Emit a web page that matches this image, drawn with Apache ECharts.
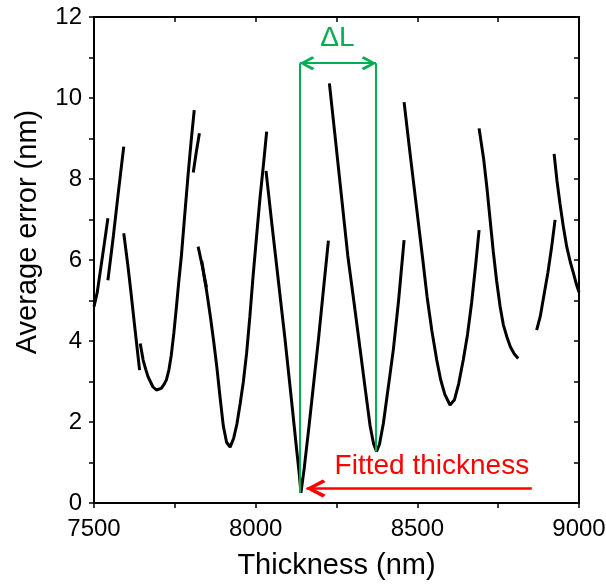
<!DOCTYPE html>
<html><head><meta charset="utf-8">
<script src="https://cdn.jsdelivr.net/npm/echarts@6/dist/echarts.min.js"></script>
<style>html,body{margin:0;padding:0;background:#fff;overflow:hidden}#c{width:606px;height:586px}</style>
</head><body><div id="c"></div>
<script>
// ---- data (thickness nm, average error nm) ----
const xRange = [7500, 9000];
const yRange = [0, 12];
const segA = [[7500,4.85],[7510,5.2],[7520,5.75],[7530,6.3],[7543,7.03]];
const segB = [[7543,5.5],[7560,6.6],[7575,7.65],[7592,8.8]];
const segC = [[7592,6.66],[7605,5.85],[7615,5.15],[7626,4.35],[7641,3.28]];
const segD = [[7643,3.94],[7652,3.53],[7660,3.3],[7667,3.12],[7682,2.87],[7693,2.79],[7708,2.83],[7716,2.92],[7724,3.04],[7732,3.3],[7739,3.65],[7747,4.2],[7755,4.85],[7762,5.45],[7770,6.08],[7780,7.05],[7791,8.1],[7800,8.9],[7810,9.7]];
const segE = [[7807,8.16],[7816,8.65],[7826,9.13]];
const segE2 = [[7833,5.98],[7840,5.65],[7848,5.32]];
const segF = [[7822,6.33],[7835,5.85],[7848,5.25],[7860,4.6],[7870,4.0],[7880,3.35],[7890,2.6],[7900,1.9],[7910,1.5],[7921,1.38],[7932,1.6],[7942,1.95],[7952,2.45],[7962,3.0],[7972,3.7],[7982,4.6],[7992,5.6],[8003,6.6],[8013,7.5],[8024,8.35],[8034,9.17]];
const segG = [[8032,8.2],[8050,6.9],[8070,5.5],[8090,4.1],[8110,2.6],[8125,1.45],[8135,0.7],[8140,0.25],[8150,0.85],[8165,1.9],[8180,3.0],[8195,4.1],[8210,5.3],[8225,6.48]];
const segH = [[8228,10.36],[8245,9.1],[8265,7.6],[8285,6.1],[8305,4.9],[8323,3.8],[8340,2.75],[8354,1.9],[8365,1.45],[8374,1.27],[8383,1.45],[8395,1.97],[8410,2.85],[8426,3.8],[8442,5.0],[8459,6.49]];
const segI = [[8459,9.9],[8475,8.8],[8490,7.8],[8505,6.8],[8517,6.0],[8530,5.1],[8545,4.25],[8560,3.53],[8572,3.05],[8585,2.68],[8601,2.42],[8615,2.55],[8628,2.95],[8642,3.53],[8655,4.15],[8668,4.95],[8680,5.85],[8691,6.74]];
const segJ = [[8691,9.25],[8705,8.5],[8715,7.8],[8725,7.0],[8735,6.2],[8745,5.5],[8756,4.85],[8766,4.4],[8777,4.1],[8788,3.85],[8800,3.68],[8812,3.57]];
const segK = [[8869,4.27],[8880,4.6],[8892,5.15],[8904,5.7],[8915,6.3],[8926,6.99]];
const segL = [[8923,8.62],[8932,7.95],[8941,7.4],[8952,6.8],[8962,6.33],[8973,5.95],[8983,5.67],[8992,5.4],[9000,5.2]];
const segments = [segA, segB, segC, segD, segE, segE2, segF, segG, segH, segI, segJ, segK, segL];

// ---- annotation anchors (data coords) ----
const fitMin = [8137, 0.25];
const nextMin = [8372, 1.27];
const deltaTop = 10.86;
const arrowY = 0.36;
const arrowEnd = 8854;
const arrowTip = 8158;

const FONT = "'Liberation Sans', Arial, sans-serif";
const GREEN = '#00b050';
const RED = '#ff0000';
const chevron = 'path://M10,0 L20,17 L17,20 L10,7 L3,20 L0,17 Z';

const chart = echarts.init(document.getElementById('c'), null, {renderer: 'canvas'});

const axisBase = {
  axisLine: {show: true, onZero: false, lineStyle: {color: '#000', width: 2}},
  splitLine: {show: false},
};

const series = segments.map((d, i) => ({
  type: 'line', data: d, showSymbol: false, symbol: 'none',
  lineStyle: {color: '#000', width: 3}, clip: true, silent: true,
  z: 3
}));

series.push({
  type: 'line', data: [], symbol: 'none', silent: true,
  markLine: {
    silent: true, animation: false,
    label: {show: false},
    data: [
      [{coord: [fitMin[0], fitMin[1]], symbol: 'none'}, {coord: [fitMin[0], deltaTop], symbol: 'none', lineStyle: {color: GREEN, width: 2, type: 'solid'}}],
      [{coord: [nextMin[0], nextMin[1]], symbol: 'none'}, {coord: [nextMin[0], deltaTop], symbol: 'none', lineStyle: {color: GREEN, width: 2, type: 'solid'}}],
      [{coord: [fitMin[0], deltaTop], symbol: chevron, symbolSize: [14, 15], symbolOffset: [0, 7]}, {coord: [nextMin[0], deltaTop], symbol: chevron, symbolSize: [14, 15], symbolOffset: [0, 7], lineStyle: {color: GREEN, width: 2, type: 'solid'}}],
      [{coord: [arrowTip, arrowY], symbol: chevron, symbolSize: [18, 20], symbolOffset: [0, 9]}, {coord: [arrowEnd, arrowY], symbol: 'none', lineStyle: {color: RED, width: 2.5, type: 'solid'}}]
    ]
  },
  markPoint: {
    silent: true, animation: false,
    data: [
      {coord: [8253, 11.48], symbol: 'circle', symbolSize: 0, itemStyle: {color: 'transparent'},
       label: {show: true, position: 'inside', formatter: 'ΔL', color: GREEN, fontSize: 28, fontFamily: FONT}},
      {coord: [8545, 0.9], symbol: 'circle', symbolSize: 0, itemStyle: {color: 'transparent'},
       label: {show: true, position: 'inside', formatter: 'Fitted thickness', color: RED, fontSize: 28, fontFamily: FONT}}
    ]
  }
});

chart.setOption({
  animation: false,
  backgroundColor: '#fff',
  grid: {left: 94, right: 27, top: 17, bottom: 83, containLabel: false, outerBoundsMode: 'none'},
  xAxis: [
    Object.assign({}, axisBase, {
      type: 'value', min: xRange[0], max: xRange[1], interval: 500, position: 'bottom',
      name: 'Thickness (nm)', nameLocation: 'middle', nameGap: 48,
      nameTextStyle: {fontSize: 29, color: '#000', fontFamily: FONT},
      axisTick: {show: true, inside: false, length: 5, lineStyle: {color: '#000', width: 1.5}},
      minorTick: {show: true, splitNumber: 2, length: 5, lineStyle: {color: '#000', width: 1.5}},
      axisLabel: {fontSize: 24, color: '#000', fontFamily: FONT, margin: 14, formatter: v => String(v)}
    }),
    Object.assign({}, axisBase, {
      type: 'value', min: xRange[0], max: xRange[1], interval: 500, position: 'top',
      axisTick: {show: true, inside: true, length: 5, lineStyle: {color: '#000', width: 1.5}},
      minorTick: {show: true, splitNumber: 2, length: 5, lineStyle: {color: '#000', width: 1.5}},
      axisLabel: {show: false}
    })
  ],
  yAxis: [
    Object.assign({}, axisBase, {
      type: 'value', min: yRange[0], max: yRange[1], interval: 2, position: 'left',
      name: 'Average error (nm)', nameLocation: 'middle', nameGap: 52, nameRotate: 90,
      nameTextStyle: {fontSize: 29, color: '#000', fontFamily: FONT, padding: [0, 0, 0, 56]},
      axisTick: {show: true, inside: false, length: 5, lineStyle: {color: '#000', width: 1.5}},
      minorTick: {show: true, splitNumber: 2, length: 5, lineStyle: {color: '#000', width: 1.5}},
      axisLabel: {fontSize: 24, color: '#000', fontFamily: FONT, margin: 12}
    }),
    Object.assign({}, axisBase, {
      type: 'value', min: yRange[0], max: yRange[1], interval: 2, position: 'right',
      axisTick: {show: true, inside: true, length: 5, lineStyle: {color: '#000', width: 1.5}},
      minorTick: {show: true, splitNumber: 2, length: 5, lineStyle: {color: '#000', width: 1.5}},
      axisLabel: {show: false}
    })
  ],
  series: series
});
</script>
</body></html>
